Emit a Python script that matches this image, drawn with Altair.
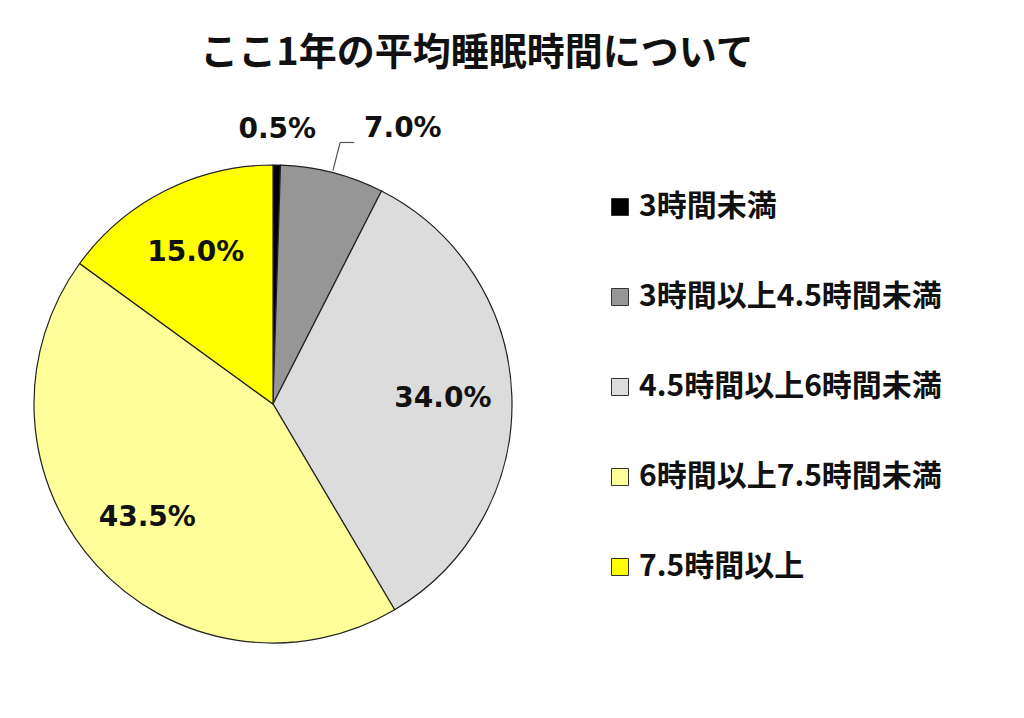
import altair as alt
import pandas as pd

# data
categories = ["3時間未満", "3時間以上4.5時間未満", "4.5時間以上6時間未満",
              "6時間以上7.5時間未満", "7.5時間以上"]
shares = [0.5, 7.0, 34.0, 43.5, 15.0]
labels = ["0.5%", "7.0%", "34.0%", "43.5%", "15.0%"]
colors = ["#000000", "#969696", "#DCDCDC", "#FFFF99", "#FFFF00"]

df = pd.DataFrame({"category": categories, "share": shares,
                   "label": labels, "order": list(range(len(categories)))})

CX, CY, R = 265, 396, 239
JP = "Noto Sans CJK JP"

base = alt.Chart(df)

pie = base.mark_arc(outerRadius=R, stroke="#222222", strokeWidth=1.2).encode(
    theta=alt.Theta("share:Q", stack=True),
    order=alt.Order("order:Q"),
    color=alt.Color(
        "category:N",
        scale=alt.Scale(domain=categories, range=colors),
        sort=categories,
        legend=alt.Legend(
            orient="none", legendX=597, legendY=184, title=None,
            symbolType="square", symbolSize=289,
            symbolStrokeColor="#333333", symbolStrokeWidth=1,
            labelFont=JP, labelFontSize=30, labelFontWeight="bold",
            labelColor="#111111", labelLimit=500, labelOffset=4,
            rowPadding=60, padding=0,
        ),
    ),
    x=alt.value(CX),
    y=alt.value(CY),
)

# mid angle of each slice (radians, clockwise from 12 o'clock)
angles = base.transform_joinaggregate(total="sum(share)").transform_window(
    cum="sum(share)", sort=[alt.SortField("order")], frame=[None, 0]
).transform_calculate(
    mid="2*PI*(datum.cum - datum.share/2)/datum.total",
    small="datum.share < 1",
    outer="datum.share < 10",
).transform_calculate(
    lr="datum.small ? 274 : (datum.outer ? 304 : 170)",
    ta="datum.small ? datum.mid : (datum.outer ? datum.mid + 0.19 : datum.mid)",
)

text = angles.mark_text(font="DejaVu Sans", fontSize=28, fontWeight="bold",
                        color="#111111").encode(
    theta=alt.Theta("ta:Q", scale=None),
    radius=alt.Radius("lr:Q", scale=None),
    text="label:N",
    x=alt.value(CX),
    y=alt.value(CY),
)

# leader line for the 7.0% label
leader = angles.transform_filter("datum.outer && !datum.small").transform_calculate(
    x1=f"{CX} + {R + 2}*sin(datum.mid)",
    y1=f"{CY} - {R + 2}*cos(datum.mid)",
    x2=f"{CX} + 270*sin(datum.mid)",
    y2=f"{CY} - 270*cos(datum.mid)",
).transform_calculate(x3="datum.x2 + 14")

leg1 = leader.mark_rule(color="#555555", strokeWidth=1.2).encode(
    x=alt.X("x1:Q", scale=None), y=alt.Y("y1:Q", scale=None),
    x2="x2:Q", y2="y2:Q",
)
leg2 = leader.mark_rule(color="#555555", strokeWidth=1.2).encode(
    x=alt.X("x2:Q", scale=None), y=alt.Y("y2:Q", scale=None),
    x2="x3:Q", y2="y2:Q",
)

chart = alt.layer(pie, leg1, leg2, text).properties(
    width=1008, height=702,
    padding=0,
    autosize=alt.AutoSizeParams(type="none"),
    title=alt.TitleParams(
        "ここ1年の平均睡眠時間について", font=JP, fontSize=38,
        fontWeight="bold", color="#111111", anchor="middle",
        baseline="top", dx=-35, dy=69,
    ),
).configure_view(stroke=None).configure_axis(grid=False)

chart.save("out.html", embed_options={"renderer": "svg", "actions": False})
